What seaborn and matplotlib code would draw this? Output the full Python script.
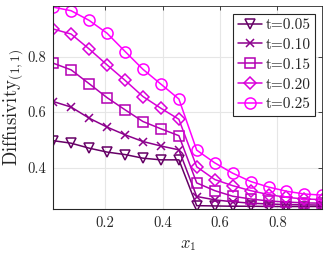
import numpy as np
import pandas as pd
import matplotlib
matplotlib.use("Agg")
import matplotlib.pyplot as plt
import seaborn as sns

x1 = [0.020, 0.082, 0.145, 0.207, 0.270, 0.332, 0.394, 0.457,
      0.519, 0.582, 0.644, 0.707, 0.769, 0.831, 0.894, 0.956]

d_t005 = [0.497, 0.488, 0.470, 0.456, 0.447, 0.434, 0.428, 0.428,
          0.263, 0.262, 0.261, 0.261, 0.260, 0.260, 0.260, 0.260]
d_t010 = [0.638, 0.618, 0.578, 0.546, 0.518, 0.494, 0.478, 0.464,
          0.296, 0.284, 0.277, 0.272, 0.269, 0.267, 0.266, 0.265]
d_t015 = [0.776, 0.752, 0.702, 0.652, 0.608, 0.566, 0.540, 0.515,
          0.345, 0.317, 0.297, 0.287, 0.280, 0.276, 0.273, 0.272]
d_t020 = [0.899, 0.881, 0.827, 0.770, 0.714, 0.656, 0.614, 0.574,
          0.403, 0.357, 0.335, 0.317, 0.303, 0.293, 0.287, 0.285]
d_t025 = [0.978, 0.965, 0.930, 0.884, 0.818, 0.754, 0.701, 0.647,
          0.463, 0.417, 0.380, 0.350, 0.330, 0.315, 0.305, 0.301]

labels = ["t=0.05", "t=0.10", "t=0.15", "t=0.20", "t=0.25"]
series = [d_t005, d_t010, d_t015, d_t020, d_t025]
colors = ["#660066", "#8c008c", "#b300b3", "#d900d9", "#ff00ff"]
markers = ["v", "x", "s", "D", "o"]
msizes = [7.5, 5.5, 6.5, 6.5, 8]

sns.set_style("white")
plt.rcParams["font.family"] = ["cmr10", "DejaVu Serif"]
plt.rcParams["mathtext.fontset"] = "cm"
plt.rcParams["axes.formatter.use_mathtext"] = True

fig = plt.figure(figsize=(3.32, 2.54), dpi=100)
ax = fig.add_axes([53.3 / 332, 1 - 209 / 254, (322.3 - 53.3) / 332, (209 - 6) / 254])

for lab, vals, c, m, ms in zip(labels, series, colors, markers, msizes):
    df = pd.DataFrame({"x": x1, "y": vals})
    sns.lineplot(data=df, x="x", y="y", color=c, marker=m, markersize=ms,
                 markerfacecolor="none", markeredgecolor=c, markeredgewidth=1.1,
                 linewidth=1.1, label=lab, ax=ax)

ax.set_xlim(0.020, 0.956)
ax.set_ylim(0.251, 0.982)
ax.set_xticks([0.2, 0.4, 0.6, 0.8])
ax.set_yticks([0.4, 0.6, 0.8])
ax.set_xticklabels(["0.2", "0.4", "0.6", "0.8"])
ax.set_yticklabels(["0.4", "0.6", "0.8"])
ax.tick_params(direction="in", length=3, width=0.6, labelsize=10.5,
               top=True, right=True, colors="#262626", pad=5)
ax.grid(True, color="#e6e6e6", linewidth=0.8)
for side in ["top", "right"]:
    ax.spines[side].set_color("#262626")
    ax.spines[side].set_linewidth(0.6)
for side in ["left", "bottom"]:
    ax.spines[side].set_color("#262626")
    ax.spines[side].set_linewidth(0.8)

ax.set_xlabel(r"$x_1$", fontsize=12, labelpad=6)
ax.set_ylabel(r"Diffusivity$_{(1,1)}$", fontsize=13.5, labelpad=2)

leg = ax.legend(loc="upper right", bbox_to_anchor=(0.973, 0.962), fontsize=11,
                frameon=True, fancybox=False, edgecolor="#262626", framealpha=1,
                handlelength=1.6, handletextpad=0.2, borderpad=0.3,
                labelspacing=0.4, borderaxespad=0)
leg.get_frame().set_linewidth(0.8)

fig.savefig("out.png", dpi=100)
